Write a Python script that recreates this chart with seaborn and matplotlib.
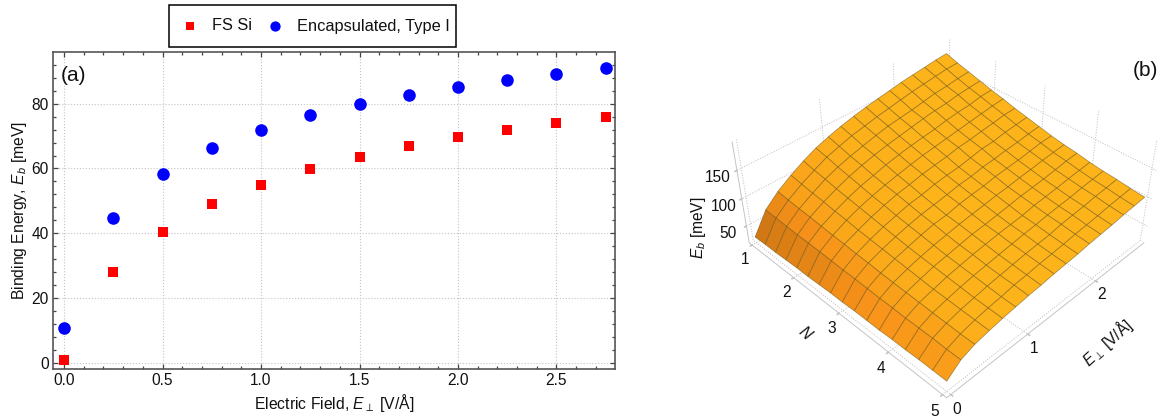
import numpy as np
import matplotlib
matplotlib.use('Agg')
import matplotlib.pyplot as plt
import seaborn as sns
from matplotlib.colors import to_rgb
from matplotlib.patches import Rectangle

sns.set_theme(style='white')
plt.rcParams['font.family'] = ['Liberation Sans', 'DejaVu Sans']
plt.rcParams['mathtext.fontset'] = 'custom'
plt.rcParams['mathtext.rm'] = 'Liberation Sans'
plt.rcParams['mathtext.it'] = 'Liberation Sans:italic'
plt.rcParams['mathtext.fallback'] = 'stixsans'

# panel (a)
field = [0.0, 0.25, 0.5, 0.75, 1.0, 1.25, 1.5, 1.75, 2.0, 2.25, 2.5, 2.75]
fs_si = [0.7, 28, 40.5, 49, 55, 59.7, 63.5, 67, 69.7, 71.8, 74, 76]
encapsulated = [10.7, 44.8, 58.2, 66.3, 72, 76.4, 80, 82.8, 85.3, 87.4, 89.3, 91]

# panel (b), rows are N, columns are E
layers = [1, 1.25, 1.5, 1.75, 2, 2.25, 2.5, 2.75, 3, 3.25, 3.5, 3.75, 4, 4.25, 4.5, 4.75, 5]
field_b = [0, 0.17, 0.34, 0.52, 0.69, 0.86, 1.03, 1.2, 1.38, 1.55, 1.72, 1.89, 2.06, 2.23, 2.41, 2.58, 2.75]
binding = [
    [29, 66, 86, 102, 115, 126, 134, 141, 147, 152, 156, 160, 164, 167, 170, 173, 175],
    [30, 65, 84, 99, 111, 122, 129, 136, 141, 146, 150, 154, 158, 161, 164, 167, 168],
    [30, 64, 82, 96, 108, 117, 124, 130, 136, 141, 144, 147, 151, 155, 157, 160, 162],
    [31, 63, 81, 94, 104, 113, 120, 126, 131, 135, 139, 143, 146, 148, 152, 154, 156],
    [32, 63, 79, 91, 101, 109, 115, 121, 126, 130, 133, 136, 140, 143, 145, 149, 150],
    [32, 62, 77, 89, 98, 105, 111, 116, 121, 125, 128, 131, 134, 137, 140, 143, 145],
    [33, 61, 76, 86, 95, 102, 108, 112, 117, 120, 123, 127, 129, 132, 135, 138, 139],
    [34, 60, 74, 84, 92, 98, 104, 107, 112, 115, 117, 121, 125, 126, 130, 132, 134],
    [34, 60, 73, 82, 89, 95, 100, 103, 107, 111, 113, 117, 119, 122, 124, 127, 129],
    [35, 59, 71, 80, 86, 92, 97, 99, 104, 107, 109, 113, 115, 117, 120, 123, 124],
    [35, 58, 70, 78, 84, 89, 93, 97, 100, 103, 106, 108, 111, 113, 116, 118, 120],
    [35, 58, 69, 76, 82, 86, 90, 94, 96, 99, 102, 105, 107, 109, 112, 115, 117],
    [36, 57, 68, 74, 80, 84, 88, 91, 94, 96, 98, 102, 104, 106, 109, 111, 113],
    [36, 57, 67, 73, 78, 82, 85, 88, 91, 94, 96, 99, 101, 103, 106, 108, 110],
    [37, 57, 66, 72, 76, 80, 83, 86, 89, 91, 93, 97, 99, 101, 104, 106, 108],
    [37, 56, 65, 71, 75, 78, 82, 84, 87, 89, 91, 94, 96, 98, 101, 103, 105],
    [37, 56, 65, 70, 74, 77, 80, 82, 85, 87, 89, 92, 94, 96, 99, 101, 103],
]

W, H = 1168, 416
fig = plt.figure(figsize=(W / 100, H / 100), dpi=100, facecolor='white')

# left axes, pixel box 53..615 x 52..369
ax = fig.add_axes([53 / W, 1 - 369 / H, 562 / W, 317 / H])
sns.scatterplot(x=field, y=fs_si, ax=ax, marker='s', s=42, color='#ff0000', linewidth=0, label='FS Si', zorder=3)
sns.scatterplot(x=field, y=encapsulated, ax=ax, marker='o', s=82, color='#0000ff', linewidth=0, label='Encapsulated, Type I', zorder=3)
ax.set_xlim(-0.056, 2.797)
ax.set_ylim(-2, 96)
ax.set_xticks([0, 0.5, 1, 1.5, 2, 2.5])
ax.set_xticklabels(['0.0', '0.5', '1.0', '1.5', '2.0', '2.5'])
ax.set_xticks(np.arange(0, 2.8, 0.1), minor=True)
ax.set_yticks([0, 20, 40, 60, 80])
ax.set_yticks(np.arange(0, 96, 4), minor=True)
ax.tick_params(which='both', direction='in', top=True, right=True, bottom=True, left=True,
               color='#444444', width=0.9, labelsize=11.2, labelcolor='#111111', pad=3)
ax.tick_params(which='major', length=3.5)
ax.tick_params(which='minor', length=2.2)
ax.grid(True, which='major', color='#c4c4c4', lw=0.8, ls=':')
ax.set_axisbelow(True)
for s in ax.spines.values():
    s.set_visible(True)
    s.set_color('#555555')
    s.set_linewidth(1.2)
ax.set_xlabel(r'Electric Field, $E_{\perp}$ [V/Å]', fontsize=11.3, color='#111111', labelpad=3)
ax.set_ylabel(r'Binding Energy, $E_{b}$ [meV]', fontsize=11.3, color='#111111', labelpad=2)
ax.text(0.014, 0.925, '(a)', transform=ax.transAxes, fontsize=15, color='#111111', va='center')

# legend text and markers, with the black box drawn separately
leg = ax.legend(loc='center left', bbox_to_anchor=((174 - 53) / 562, (369 - 26) / 317), ncol=2, frameon=False,
                fontsize=11.8, borderpad=0, handletextpad=0.3, columnspacing=0.45, borderaxespad=0)
leg.legend_handles[0].set_sizes([26])
leg.legend_handles[1].set_sizes([55])
for t in leg.get_texts():
    t.set_color('#111111')
fig.add_artist(Rectangle((169 / W, 1 - 47 / H), 287 / W, 42 / H, transform=fig.transFigure,
                         fill=False, edgecolor='black', linewidth=1.1))

# right 3d panel
ax3 = fig.add_axes([702 / W, 8 / H, 478 / W, 1.0], projection='3d')
ax3.set_proj_type('persp', focal_length=0.42)
ax3.view_init(elev=38, azim=-45)
ax3.set_box_aspect((1, 1, 0.44), zoom=1.005)
ax3.patch.set_alpha(0)

NN, EE = np.meshgrid(layers, field_b, indexing='ij')
ZZ = np.array(binding, dtype=float)

# colour from local steepness, brown on the steep low field part
slope = np.abs(np.gradient(ZZ, axis=1))[:-1, :-1]
amt = np.clip(slope / 45, 0, 1)[..., None] ** 1.5
light = np.array(to_rgb('#fdb51a'))
mid = np.array(to_rgb('#f7921a'))
dark = np.array(to_rgb('#b5650f'))
faces = np.where(amt < 0.4, light + (mid - light) * amt / 0.4, mid + (dark - mid) * (amt - 0.4) / 0.6)

surf = ax3.plot_surface(NN, EE, ZZ, facecolors=faces, rstride=1, cstride=1, shade=False,
                        edgecolor=(0.4, 0.3, 0.05, 0.55), linewidth=0.55, antialiased=True)
surf.set_clip_on(False)
ax3.set_xlim(0.93, 5.07)
ax3.set_ylim(-0.05, 2.8)
ax3.set_zlim(18, 198)
ax3.set_xticks([1, 2, 3, 4, 5])
ax3.set_yticks([0, 1, 2])
ax3.set_zticks([50, 100, 150])
ax3.tick_params(axis='both', labelsize=11.2, labelcolor='#111111', color='#c4c4c4')
ax3.tick_params(axis='x', pad=-3)
ax3.tick_params(axis='y', pad=-4)
ax3.tick_params(axis='z', pad=-1)
ax3.zaxis.set_ticks_position('lower')
for a in (ax3.xaxis, ax3.yaxis, ax3.zaxis):
    a.set_pane_color((1, 1, 1, 0))
    a.pane.set_edgecolor('#c4c4c4')
    a.line.set_color('#c4c4c4')
    a.line.set_linewidth(0.7)
    a._axinfo['grid'].update(color='#bcbcbc', linewidth=0.7, linestyle=':')
    a._axinfo['tick'].update(inward_factor=0.1, outward_factor=0.0)

# axis labels of the 3d box placed by hand
fig.text(805 / W, 1 - 333 / H, 'N', fontsize=11.2, style='italic', color='#111111', rotation=-42, ha='center', va='center')
fig.text(1107 / W, 1 - 342 / H, r'$E_{\perp}$ [V/Å]', fontsize=11.2, color='#111111', rotation=42, ha='center', va='center')
fig.text(698 / W, 1 - 228 / H, r'$E_{b}$ [meV]', fontsize=11.2, color='#111111', rotation=90, ha='center', va='center')
fig.text(1145 / W, 1 - 70 / H, '(b)', fontsize=15, color='#111111', ha='center', va='center')

fig.savefig('out.png', dpi=100)
